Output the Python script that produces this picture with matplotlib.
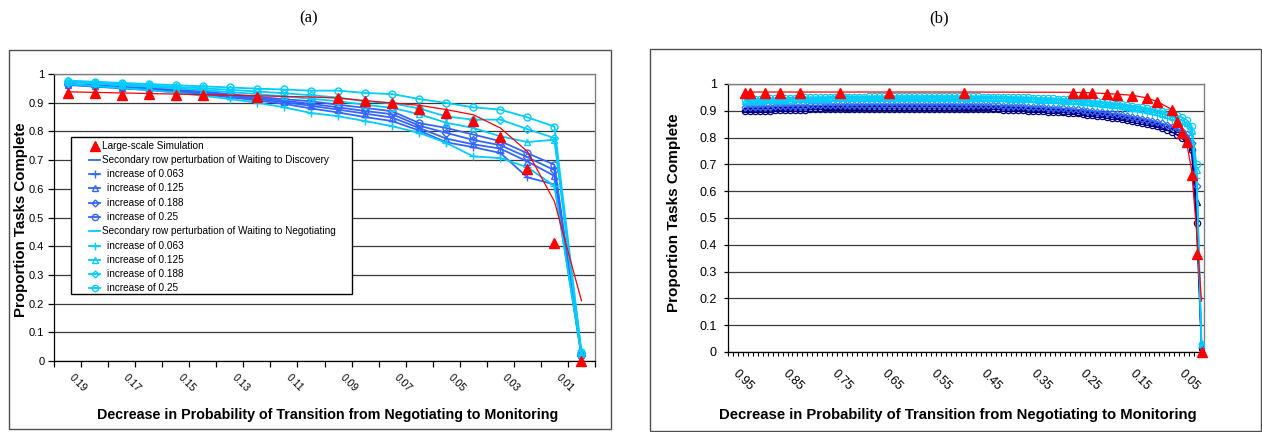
import numpy as np
import matplotlib
matplotlib.use('Agg')
import matplotlib.pyplot as plt
from matplotlib.patches import Rectangle
from matplotlib.lines import Line2D

plt.rcParams['font.family'] = ['Liberation Sans', 'DejaVu Sans']

# ---------------- data: panel (a) ----------------
left_cats = ['0.19', '0.18', '0.17', '0.16', '0.15', '0.14', '0.13', '0.12', '0.11', '0.10',
             '0.09', '0.08', '0.07', '0.06', '0.05', '0.04', '0.03', '0.02', '0.01', '0.00']
sim_left = [0.934, 0.934, 0.928, 0.931, 0.928, 0.926, None, 0.919, None, None,
            0.915, 0.907, 0.900, 0.878, 0.865, 0.836, 0.782, 0.669, 0.410, 0.0]
fit_left = [0.938, 0.936, 0.934, 0.932, 0.930, 0.928, 0.926, 0.924, 0.922, 0.920,
            0.916, 0.907, 0.899, 0.891, 0.876, 0.858, 0.812, 0.730, 0.556, 0.210]
disc_063 = [0.962, 0.956, 0.950, 0.944, 0.937, 0.929, 0.919, 0.908, 0.896, 0.880,
            0.866, 0.850, 0.836, 0.803, 0.762, 0.745, 0.725, 0.640, 0.615, 0.018]
disc_125 = [0.963, 0.958, 0.952, 0.946, 0.940, 0.932, 0.923, 0.913, 0.902, 0.889,
            0.876, 0.862, 0.848, 0.812, 0.775, 0.755, 0.740, 0.695, 0.645, 0.020]
disc_188 = [0.964, 0.959, 0.954, 0.948, 0.942, 0.935, 0.926, 0.917, 0.907, 0.896,
            0.884, 0.871, 0.860, 0.820, 0.795, 0.770, 0.752, 0.710, 0.665, 0.020]
disc_250 = [0.966, 0.961, 0.956, 0.951, 0.945, 0.939, 0.930, 0.921, 0.912, 0.905,
            0.893, 0.882, 0.870, 0.829, 0.812, 0.789, 0.766, 0.724, 0.684, 0.020]
neg_063 = [0.965, 0.958, 0.951, 0.944, 0.935, 0.924, 0.913, 0.900, 0.884, 0.864,
           0.853, 0.836, 0.818, 0.795, 0.760, 0.713, 0.707, 0.675, 0.610, 0.020]
neg_125 = [0.972, 0.967, 0.961, 0.956, 0.950, 0.944, 0.937, 0.930, 0.922, 0.914,
           0.905, 0.893, 0.882, 0.860, 0.830, 0.812, 0.783, 0.763, 0.771, 0.025]
neg_188 = [0.975, 0.970, 0.965, 0.960, 0.955, 0.950, 0.945, 0.939, 0.933, 0.926,
           0.918, 0.905, 0.898, 0.880, 0.852, 0.841, 0.841, 0.808, 0.777, 0.028]
neg_250 = [0.977, 0.973, 0.969, 0.965, 0.961, 0.957, 0.953, 0.949, 0.946, 0.942,
           0.942, 0.934, 0.930, 0.913, 0.899, 0.884, 0.876, 0.849, 0.817, 0.030]

# ---------------- data: panel (b) ----------------
right_x = [round(0.92 - 0.01 * i, 2) for i in range(93)]
right_ticklabels = ['0.95', '0.85', '0.75', '0.65', '0.55', '0.45', '0.35', '0.25', '0.15', '0.05']
sim_right_x = [0.92, 0.91, 0.88, 0.85, 0.81, 0.73, 0.63, 0.48, 0.26, 0.24, 0.22, 0.19,
               0.17, 0.14, 0.11, 0.09, 0.06, 0.05, 0.04, 0.03, 0.02, 0.01, 0.00]
sim_right = [0.967, 0.967, 0.968, 0.967, 0.968, 0.968, 0.968, 0.968, 0.966, 0.966, 0.966, 0.962,
             0.960, 0.957, 0.946, 0.932, 0.902, 0.859, 0.817, 0.782, 0.660, 0.366, 0.0]
fit_right = [0.970, 0.970, 0.970, 0.970, 0.970, 0.970, 0.970, 0.970, 0.969, 0.968, 0.967, 0.964,
             0.962, 0.958, 0.948, 0.935, 0.905, 0.870, 0.830, 0.780, 0.680, 0.450, 0.190]
r_nav_o = [0.899, 0.899, 0.900, 0.900, 0.901, 0.901, 0.902, 0.902, 0.903, 0.903,
           0.904, 0.904, 0.904, 0.905, 0.905, 0.905, 0.906, 0.906, 0.906, 0.906,
           0.907, 0.907, 0.907, 0.907, 0.907, 0.908, 0.908, 0.908, 0.908, 0.908,
           0.908, 0.908, 0.908, 0.908, 0.908, 0.908, 0.908, 0.908, 0.908, 0.908,
           0.908, 0.908, 0.908, 0.907, 0.907, 0.907, 0.907, 0.906, 0.906, 0.906,
           0.905, 0.905, 0.904, 0.904, 0.903, 0.902, 0.902, 0.901, 0.900, 0.899,
           0.898, 0.897, 0.896, 0.895, 0.894, 0.893, 0.891, 0.890, 0.888, 0.886,
           0.884, 0.882, 0.880, 0.878, 0.875, 0.872, 0.869, 0.866, 0.863, 0.860,
           0.856, 0.852, 0.847, 0.842, 0.836, 0.829, 0.821, 0.811, 0.798, 0.781,
           0.752, 0.480, 0.015]
r_nav_t = [0.906, 0.906, 0.907, 0.907, 0.908, 0.908, 0.909, 0.909, 0.910, 0.910,
           0.911, 0.911, 0.911, 0.912, 0.912, 0.912, 0.913, 0.913, 0.913, 0.913,
           0.914, 0.914, 0.914, 0.914, 0.914, 0.915, 0.915, 0.915, 0.915, 0.915,
           0.915, 0.915, 0.915, 0.915, 0.915, 0.915, 0.915, 0.915, 0.915, 0.915,
           0.915, 0.915, 0.915, 0.914, 0.914, 0.914, 0.914, 0.913, 0.913, 0.913,
           0.912, 0.912, 0.911, 0.911, 0.910, 0.909, 0.909, 0.908, 0.907, 0.906,
           0.905, 0.904, 0.903, 0.902, 0.901, 0.900, 0.898, 0.897, 0.895, 0.893,
           0.891, 0.889, 0.887, 0.885, 0.882, 0.879, 0.876, 0.873, 0.870, 0.867,
           0.863, 0.859, 0.855, 0.850, 0.845, 0.839, 0.833, 0.825, 0.815, 0.803,
           0.765, 0.560, 0.018]
r_blu_d = [0.914, 0.914, 0.915, 0.915, 0.916, 0.916, 0.917, 0.917, 0.918, 0.918,
           0.919, 0.919, 0.919, 0.920, 0.920, 0.920, 0.921, 0.921, 0.921, 0.921,
           0.922, 0.922, 0.922, 0.922, 0.922, 0.923, 0.923, 0.923, 0.923, 0.923,
           0.923, 0.923, 0.923, 0.923, 0.923, 0.923, 0.923, 0.923, 0.923, 0.923,
           0.923, 0.923, 0.923, 0.922, 0.922, 0.922, 0.922, 0.921, 0.921, 0.921,
           0.920, 0.920, 0.919, 0.919, 0.918, 0.917, 0.917, 0.916, 0.915, 0.914,
           0.913, 0.912, 0.911, 0.910, 0.909, 0.908, 0.906, 0.905, 0.903, 0.901,
           0.899, 0.897, 0.895, 0.893, 0.890, 0.887, 0.884, 0.881, 0.878, 0.875,
           0.871, 0.867, 0.863, 0.858, 0.853, 0.847, 0.841, 0.834, 0.825, 0.814,
           0.780, 0.620, 0.020]
r_cya_p = [0.927, 0.928, 0.929, 0.930, 0.931, 0.932, 0.933, 0.933, 0.934, 0.935,
           0.935, 0.936, 0.936, 0.937, 0.937, 0.938, 0.938, 0.938, 0.939, 0.939,
           0.939, 0.940, 0.940, 0.940, 0.940, 0.940, 0.941, 0.941, 0.941, 0.941,
           0.941, 0.941, 0.941, 0.941, 0.941, 0.941, 0.941, 0.941, 0.941, 0.941,
           0.941, 0.941, 0.940, 0.940, 0.940, 0.940, 0.940, 0.939, 0.939, 0.939,
           0.938, 0.938, 0.937, 0.937, 0.936, 0.936, 0.935, 0.935, 0.934, 0.933,
           0.932, 0.931, 0.930, 0.929, 0.928, 0.927, 0.926, 0.925, 0.923, 0.922,
           0.920, 0.918, 0.916, 0.914, 0.912, 0.910, 0.907, 0.904, 0.901, 0.898,
           0.895, 0.891, 0.887, 0.883, 0.878, 0.873, 0.867, 0.860, 0.852, 0.842,
           0.815, 0.650, 0.025]
r_cya_t = [0.935, 0.936, 0.937, 0.938, 0.939, 0.940, 0.940, 0.941, 0.942, 0.942,
           0.943, 0.943, 0.944, 0.944, 0.945, 0.945, 0.945, 0.946, 0.946, 0.946,
           0.947, 0.947, 0.947, 0.947, 0.948, 0.948, 0.948, 0.948, 0.948, 0.948,
           0.949, 0.949, 0.949, 0.949, 0.949, 0.949, 0.949, 0.949, 0.949, 0.949,
           0.949, 0.949, 0.948, 0.948, 0.948, 0.948, 0.948, 0.947, 0.947, 0.947,
           0.946, 0.946, 0.946, 0.945, 0.945, 0.944, 0.944, 0.943, 0.943, 0.942,
           0.941, 0.940, 0.940, 0.939, 0.938, 0.937, 0.936, 0.935, 0.933, 0.932,
           0.930, 0.929, 0.927, 0.925, 0.923, 0.921, 0.918, 0.915, 0.912, 0.909,
           0.906, 0.902, 0.898, 0.894, 0.890, 0.885, 0.879, 0.872, 0.864, 0.854,
           0.830, 0.680, 0.028]
r_cya_o = [0.942, 0.943, 0.944, 0.945, 0.946, 0.946, 0.947, 0.947, 0.948, 0.948,
           0.949, 0.949, 0.950, 0.950, 0.950, 0.951, 0.951, 0.951, 0.952, 0.952,
           0.952, 0.953, 0.953, 0.953, 0.953, 0.954, 0.954, 0.954, 0.954, 0.954,
           0.954, 0.955, 0.955, 0.955, 0.955, 0.955, 0.955, 0.955, 0.955, 0.955,
           0.955, 0.955, 0.955, 0.954, 0.954, 0.954, 0.954, 0.954, 0.953, 0.953,
           0.953, 0.952, 0.952, 0.952, 0.951, 0.951, 0.950, 0.950, 0.949, 0.948,
           0.948, 0.947, 0.946, 0.945, 0.944, 0.943, 0.942, 0.941, 0.940, 0.938,
           0.937, 0.935, 0.933, 0.931, 0.929, 0.927, 0.925, 0.922, 0.919, 0.916,
           0.913, 0.910, 0.906, 0.902, 0.898, 0.894, 0.889, 0.883, 0.876, 0.866,
           0.845, 0.700, 0.030]

yticks = [0.0, 0.1, 0.2, 0.3, 0.4, 0.5, 0.6, 0.7, 0.8, 0.9, 1.0]
ytick_labels = ['0', '0.1', '0.2', '0.3', '0.4', '0.5', '0.6', '0.7', '0.8', '0.9', '1']

# ---------------- styling ----------------
W, H = 1262, 432
RED = '#ff0000'
BLUE = '#3366ff'
CYAN = '#00ccff'
NAVY = '#000080'
GRID = '#3a3a3a'
XLABEL = 'Decrease in Probability of Transition from Negotiating to Monitoring'
YLABEL = 'Proportion Tasks Complete'


def fx(px):
    return px / W


def fy(py):
    return 1 - py / H


fig = plt.figure(figsize=(W / 100, H / 100), dpi=100)

# outer chart frames
fig.add_artist(Rectangle((fx(9), fy(429)), (611 - 9) / W, (429 - 50) / H,
                         transform=fig.transFigure, fill=False, edgecolor='#505050', lw=1.0))
fig.add_artist(Rectangle((fx(650), fy(431)), (1261 - 650) / W, (431 - 49) / H,
                         transform=fig.transFigure, fill=False, edgecolor='#505050', lw=1.0))

fig.text(fx(309), fy(18), '(a)', ha='center', va='center', fontsize=12,
         family=['Liberation Serif', 'DejaVu Serif'])
fig.text(fx(939), fy(18), '(b)', ha='center', va='center', fontsize=12,
         family=['Liberation Serif', 'DejaVu Serif'])


def style_axes(ax, ylab_size, ypad, ylen):
    ax.set_ylim(0, 1)
    ax.set_yticks(yticks)
    ax.set_yticklabels(ytick_labels)
    ax.tick_params(axis='y', direction='out', length=ylen, width=0.9, pad=ypad,
                   labelsize=ylab_size)
    ax.set_axisbelow(True)
    ax.yaxis.grid(True, color=GRID, lw=0.9)
    ax.xaxis.grid(False)
    for s in ('left', 'bottom'):
        ax.spines[s].set_color('black')
        ax.spines[s].set_linewidth(0.9)
    for s in ('top', 'right'):
        ax.spines[s].set_color('#808080')
        ax.spines[s].set_linewidth(1.0)


# ---------------- panel (a) ----------------
axL = fig.add_axes([fx(54), fy(361), (595 - 54) / W, (361 - 74) / H])
style_axes(axL, 8, 3, 4)
xl = np.arange(len(left_cats))
axL.set_xlim(-0.5, len(left_cats) - 0.5)
axL.set_xticks(xl[::2])
axL.set_xticklabels(left_cats[::2], rotation=-45, ha='left', va='top', fontsize=7.5)
axL.set_xticks(np.arange(-0.5, len(left_cats), 1), minor=True)
axL.tick_params(axis='x', which='major', length=0, pad=8)
axL.tick_params(axis='x', which='minor', direction='out', length=4, width=0.9)

left_series = [
    (disc_063, BLUE, '+'), (disc_125, BLUE, '^'), (disc_188, BLUE, 'D'), (disc_250, BLUE, 'o'),
    (neg_063, CYAN, '+'), (neg_125, CYAN, '^'), (neg_188, CYAN, 'D'), (neg_250, CYAN, 'o'),
]
for vals, col, mk in left_series:
    ms = 4 if mk == 'D' else (6 if mk == '+' else 5)
    axL.plot(xl, vals, color=col, lw=1.3, marker=mk, ms=ms, mfc='none', mec=col,
             mew=1.0, zorder=3)
axL.plot(xl, fit_left, color=RED, lw=0.9, zorder=4)
sim_arr = np.array([np.nan if v is None else v for v in sim_left], dtype=float)
axL.plot(xl, sim_arr, ls='none', marker='^', ms=7, color=RED, zorder=5, clip_on=False)

fig.text(fx(328), fy(415), XLABEL, ha='center', va='center', fontsize=10.3, fontweight='bold')
fig.text(fx(21), fy(220), YLABEL, ha='center', va='center', rotation=90, fontsize=10.8,
         fontweight='bold')

# manual legend box for panel (a)
fig.add_artist(Rectangle((fx(71), fy(294)), (352 - 71) / W, (294 - 137) / H,
                         transform=fig.transFigure, facecolor='white', edgecolor='black',
                         lw=1.0, zorder=5))
legend_entries = [
    ('Large-scale Simulation', RED, None, 'tri'),
    ('Secondary row perturbation of Waiting to Discovery', BLUE, None, 'main'),
    ('increase of 0.063', BLUE, '+', 'sub'),
    ('increase of 0.125', BLUE, '^', 'sub'),
    ('increase of 0.188', BLUE, 'D', 'sub'),
    ('increase of 0.25', BLUE, 'o', 'sub'),
    ('Secondary row perturbation of Waiting to Negotiating', CYAN, None, 'main'),
    ('increase of 0.063', CYAN, '+', 'sub'),
    ('increase of 0.125', CYAN, '^', 'sub'),
    ('increase of 0.188', CYAN, 'D', 'sub'),
    ('increase of 0.25', CYAN, 'o', 'sub'),
]
for i, (lab, col, mk, kind) in enumerate(legend_entries):
    yy = fy(145.7 + 14.26 * i)
    if kind == 'tri':
        fig.add_artist(Line2D([fx(94.5)], [yy], transform=fig.transFigure, ls='none',
                              marker='^', ms=6.5, color=RED, zorder=6))
        tx = 102
    else:
        fig.add_artist(Line2D([fx(89), fx(100)], [yy, yy], transform=fig.transFigure,
                              color=col, lw=1.3, zorder=6))
        if mk is not None:
            ms = 3.5 if mk == 'D' else (5.5 if mk == '+' else 4.5)
            fig.add_artist(Line2D([fx(94.5)], [yy], transform=fig.transFigure, ls='none',
                                  marker=mk, ms=ms, mfc='none', mec=col, mew=1.0, zorder=6))
        tx = 102 if kind == 'main' else 107
    fig.text(fx(tx), yy, lab, ha='left', va='center', fontsize=7.2, zorder=7)

# ---------------- panel (b) ----------------
axR = fig.add_axes([fx(728), fy(352), (1204 - 728) / W, (352 - 84) / H])
style_axes(axR, 9, 5, 3)
axR.set_xlim(0.955, -0.005)
axR.set_xticks([0.95, 0.85, 0.75, 0.65, 0.55, 0.45, 0.35, 0.25, 0.15, 0.05])
axR.set_xticklabels(right_ticklabels, rotation=-45, ha='left', va='top', fontsize=8.8)
axR.set_xticks([0.955 - 0.01 * k for k in range(97)], minor=True)
axR.tick_params(axis='x', which='major', length=0, pad=11)
axR.tick_params(axis='x', which='minor', direction='out', length=3, width=0.8)

right_series = [
    (r_nav_o, NAVY, 'o'), (r_nav_t, NAVY, '^'), (r_blu_d, BLUE, 'D'),
    (r_cya_p, CYAN, '+'), (r_cya_t, CYAN, '^'), (r_cya_o, CYAN, 'o'),
]
for vals, col, mk in right_series:
    ms = 3.5 if mk == 'D' else 4.5
    axR.plot(right_x, vals, color=col, lw=1.1, marker=mk, ms=ms, mfc='none', mec=col,
             mew=0.9, zorder=3)
axR.plot(sim_right_x, fit_right, color=RED, lw=0.9, zorder=4)
axR.plot(sim_right_x, sim_right, ls='none', marker='^', ms=7, color=RED, zorder=5,
         clip_on=False)

fig.text(fx(958), fy(415), XLABEL, ha='center', va='center', fontsize=10.7, fontweight='bold')
fig.text(fx(674), fy(213), YLABEL, ha='center', va='center', rotation=90, fontsize=11,
         fontweight='bold')

fig.savefig('out.png', dpi=100)
